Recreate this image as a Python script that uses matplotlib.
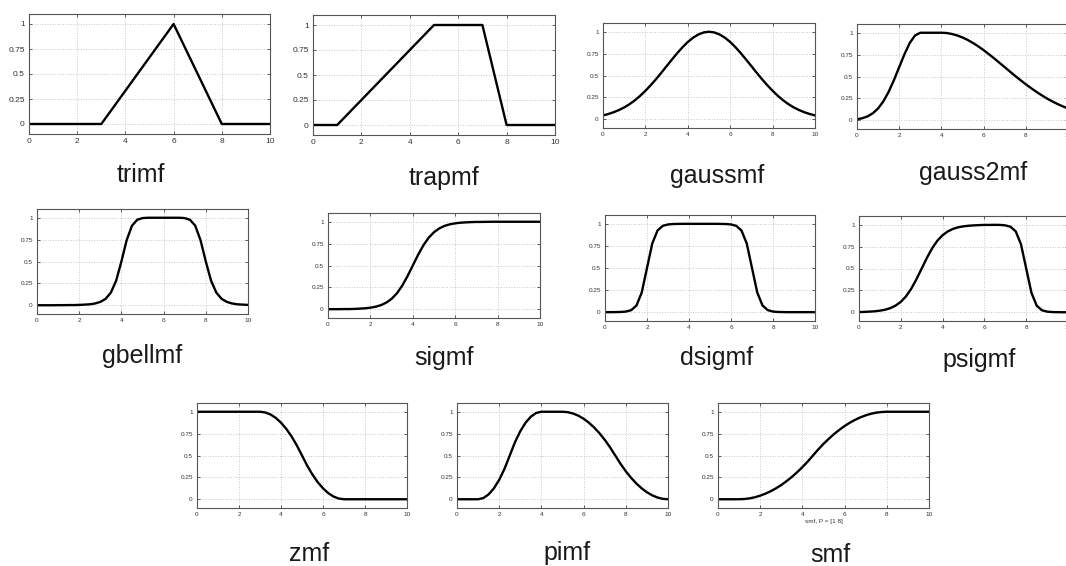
import matplotlib.pyplot as plt
import numpy as np

plt.rcParams['font.family'] = ['Liberation Sans', 'DejaVu Sans']

# membership values sampled every 0.25 on [0, 10]
x_grid = np.linspace(0, 10, 41)

trimf_x = [0, 3, 6, 8, 10]
trimf_y = [0, 0, 1, 0, 0]

trapmf_x = [0, 1, 5, 7, 8, 10]
trapmf_y = [0, 0, 1, 1, 0, 0]

gaussmf_y = [0.044, 0.060, 0.080, 0.105, 0.135, 0.172, 0.216, 0.267, 0.325, 0.389,
             0.458, 0.531, 0.607, 0.682, 0.755, 0.823, 0.883, 0.932, 0.969, 0.992,
             1.000,
             0.992, 0.969, 0.932, 0.883, 0.823, 0.755, 0.682, 0.607, 0.531, 0.458,
             0.389, 0.325, 0.267, 0.216, 0.172, 0.135, 0.105, 0.080, 0.060, 0.044]

gauss2mf_y = [0.011, 0.023, 0.044, 0.080, 0.135, 0.216, 0.325, 0.458, 0.607, 0.755,
              0.883, 0.969, 1.000, 1.000, 1.000, 1.000, 1.000, 0.997, 0.986, 0.969,
              0.946, 0.917, 0.883, 0.844, 0.801, 0.755, 0.707, 0.657, 0.607, 0.556,
              0.506, 0.458, 0.411, 0.367, 0.325, 0.286, 0.249, 0.216, 0.186, 0.159,
              0.135]

gbellmf_y = [0.000, 0.000, 0.000, 0.000, 0.001, 0.001, 0.002, 0.002, 0.004, 0.007,
             0.011, 0.020, 0.038, 0.073, 0.144, 0.280, 0.500, 0.744, 0.909, 0.977,
             0.996, 1.000, 1.000, 1.000, 1.000, 1.000, 1.000, 1.000, 0.996, 0.977,
             0.909, 0.744, 0.500, 0.280, 0.144, 0.073, 0.038, 0.020, 0.011, 0.007,
             0.004]

sigmf_y = [0.000, 0.001, 0.001, 0.002, 0.002, 0.004, 0.007, 0.011, 0.018, 0.029,
           0.047, 0.076, 0.119, 0.182, 0.269, 0.378, 0.500, 0.622, 0.731, 0.818,
           0.881, 0.924, 0.953, 0.971, 0.982, 0.989, 0.993, 0.996, 0.998, 0.998,
           0.999, 1.000, 1.000, 1.000, 1.000, 1.000, 1.000, 1.000, 1.000, 1.000,
           1.000]

dsigmf_y = [0.000, 0.000, 0.001, 0.002, 0.007, 0.023, 0.076, 0.223, 0.500, 0.777,
            0.924, 0.977, 0.993, 0.998, 0.999, 1.000, 1.000, 1.000, 1.000, 1.000,
            1.000, 1.000, 0.999, 0.998, 0.993, 0.977, 0.924, 0.777, 0.500, 0.223,
            0.076, 0.023, 0.007, 0.002, 0.001, 0.000, 0.000, 0.000, 0.000, 0.000,
            0.000]

psigmf_y = [0.002, 0.004, 0.007, 0.011, 0.018, 0.029, 0.047, 0.076, 0.119, 0.182,
            0.269, 0.378, 0.500, 0.622, 0.731, 0.818, 0.881, 0.924, 0.953, 0.971,
            0.982, 0.989, 0.993, 0.996, 0.998, 0.998, 0.999, 0.998, 0.993, 0.977,
            0.924, 0.777, 0.500, 0.223, 0.076, 0.023, 0.007, 0.002, 0.001, 0.000,
            0.000]

zmf_y = [1.000, 1.000, 1.000, 1.000, 1.000, 1.000, 1.000, 1.000, 1.000, 1.000,
         1.000, 1.000, 1.000, 0.992, 0.969, 0.930, 0.875, 0.805, 0.719, 0.617,
         0.500, 0.383, 0.281, 0.195, 0.125, 0.070, 0.031, 0.008, 0.000, 0.000,
         0.000, 0.000, 0.000, 0.000, 0.000, 0.000, 0.000, 0.000, 0.000, 0.000,
         0.000]

pimf_y = [0.000, 0.000, 0.000, 0.000, 0.000, 0.014, 0.056, 0.125, 0.222, 0.347,
          0.500, 0.653, 0.778, 0.875, 0.944, 0.986, 1.000, 1.000, 1.000, 1.000,
          1.000, 0.995, 0.980, 0.955, 0.920, 0.875, 0.820, 0.755, 0.680, 0.595,
          0.500, 0.405, 0.320, 0.245, 0.180, 0.125, 0.080, 0.045, 0.020, 0.005,
          0.000]

smf_y = [0.000, 0.000, 0.000, 0.000, 0.000, 0.003, 0.010, 0.023, 0.041, 0.064,
         0.092, 0.125, 0.163, 0.207, 0.255, 0.309, 0.367, 0.431, 0.500, 0.569,
         0.633, 0.691, 0.745, 0.793, 0.837, 0.875, 0.908, 0.936, 0.959, 0.977,
         0.990, 0.997, 1.000, 1.000, 1.000, 1.000, 1.000, 1.000, 1.000, 1.000,
         1.000]

names = ['trimf', 'trapmf', 'gaussmf', 'gauss2mf', 'gbellmf', 'sigmf',
         'dsigmf', 'psigmf', 'zmf', 'pimf', 'smf']
curves = [(trimf_x, trimf_y), (trapmf_x, trapmf_y), (x_grid, gaussmf_y),
          (x_grid, gauss2mf_y), (x_grid, gbellmf_y), (x_grid, sigmf_y),
          (x_grid, dsigmf_y), (x_grid, psigmf_y), (x_grid, zmf_y),
          (x_grid, pimf_y), (x_grid, smf_y)]

yticks = [0, 0.25, 0.5, 0.75, 1]
ytick_labels = ['0', '0.25', '0.5', '0.75', '1']

W, H = 1066, 566
# axes boxes in pixels: left, top, right, bottom
boxes = [(29, 14, 270, 134), (313, 15, 555, 135), (603, 23, 815, 128),
         (857, 24, 1068, 129), (37, 209, 248, 314), (328, 213, 540, 318),
         (605, 215, 815, 321), (859, 216, 1068, 321), (197, 403, 407, 508),
         (457, 403, 668, 508), (718, 403, 929, 508)]
# caption centre x and baseline y in pixels
captions = [(141, 182), (444, 185), (717, 183), (973, 180), (142, 363),
            (444, 365), (717, 365), (979, 367), (309, 561), (567, 560),
            (830, 562)]

fig = plt.figure(figsize=(W / 100, H / 100), dpi=100)

for i, name in enumerate(names):
    l, t, r, b = boxes[i]
    ax = fig.add_axes([l / W, 1 - b / H, (r - l) / W, (b - t) / H])
    xs, ys = curves[i]
    ax.plot(xs, ys, color='black', lw=1.7, solid_joinstyle='round')
    ax.set_xlim(0, 10)
    ax.set_ylim(-0.1, 1.1)
    ax.set_xticks(range(0, 11, 2))
    ax.set_yticks(yticks)
    ax.set_yticklabels(ytick_labels)
    ax.grid(True, color='#c8c8c8', linestyle=':', linewidth=0.7)
    fs = 6 if i < 2 else 4.6
    ax.tick_params(direction='in', length=2.5, width=0.6, labelsize=fs,
                   colors='#444444', labelcolor='#333333', pad=3,
                   top=True, right=True)
    for sp in ax.spines.values():
        sp.set_color('#555555')
        sp.set_linewidth(0.8)
    if name == 'smf':
        ax.set_xlabel('smf, P = [1 8]', fontsize=4.6, color='#333333', labelpad=1)
    cx, cy = captions[i]
    fig.text(cx / W, 1 - cy / H, name, ha='center', va='baseline',
             fontsize=18, color='#1a1a1a')

fig.savefig('out.png', dpi=100)
